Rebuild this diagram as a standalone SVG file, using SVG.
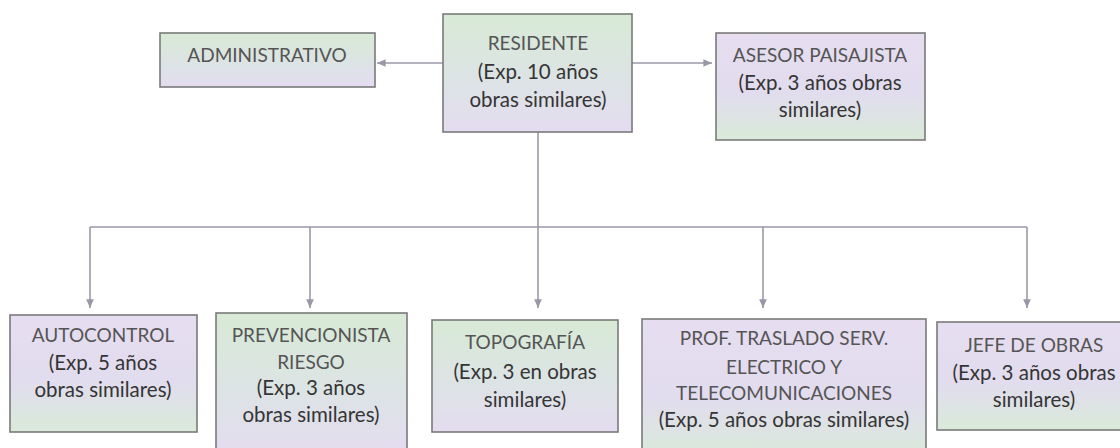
<svg xmlns="http://www.w3.org/2000/svg" width="1120" height="448" viewBox="0 0 1120 448">
<defs>
<linearGradient id="gl" x1="0" y1="0" x2="0" y2="1">
<stop offset="0" stop-color="#e6ddf0"/><stop offset="0.55" stop-color="#e2dcef"/><stop offset="1" stop-color="#d9ead9"/>
</linearGradient>
<linearGradient id="gg" x1="0" y1="0" x2="0" y2="1">
<stop offset="0" stop-color="#d8ead6"/><stop offset="0.6" stop-color="#dde3e6"/><stop offset="1" stop-color="#e4dcf0"/>
</linearGradient>
<marker id="ah" viewBox="0 0 10 10" refX="9" refY="5" markerWidth="6" markerHeight="6" orient="auto">
<path d="M0,1 L9,5 L0,9 z" fill="#9a98a8"/>
</marker>
<style>
.box{stroke:#7a7a7a;stroke-width:1.6}
.t{font-family:Lato,"Open Sans","Liberation Sans",sans-serif;font-size:20.5px;fill:#353535;text-anchor:middle}
.h{fill:#555;font-size:19px}
.c{fill:none;stroke:#9a98a8;stroke-width:1.6}
</style>
</defs>
<rect width="1120" height="448" fill="#ffffff"/>
<g id="connectors">
<line class="c" x1="443" y1="63" x2="377" y2="63" marker-end="url(#ah)"/>
<line class="c" x1="632" y1="63" x2="712" y2="63" marker-end="url(#ah)"/>
<line class="c" x1="538" y1="132" x2="538" y2="227"/>
<line class="c" x1="90" y1="227" x2="1027" y2="227"/>
<line class="c" x1="90" y1="227" x2="90" y2="308" marker-end="url(#ah)"/>
<line class="c" x1="310" y1="227" x2="310" y2="308" marker-end="url(#ah)"/>
<line class="c" x1="538" y1="227" x2="538" y2="308" marker-end="url(#ah)"/>
<line class="c" x1="763" y1="227" x2="763" y2="308" marker-end="url(#ah)"/>
<line class="c" x1="1027" y1="227" x2="1027" y2="308" marker-end="url(#ah)"/>
</g>
<g id="administrativo">
<rect class="box" x="160" y="33" width="215" height="54" fill="url(#gg)"/>
<text class="t h" x="267" y="62">ADMINISTRATIVO</text>
</g>
<g id="residente">
<rect class="box" x="443" y="14" width="189" height="118" fill="url(#gg)"/>
<text class="t h" x="538" y="50">RESIDENTE</text>
<text class="t" x="538" y="79">(Exp. 10 años</text>
<text class="t" x="538" y="107">obras similares)</text>
</g>
<g id="asesor">
<rect class="box" x="716" y="33" width="209" height="107" fill="url(#gl)"/>
<text class="t h" x="820" y="62">ASESOR PAISAJISTA</text>
<text class="t" x="820" y="90">(Exp. 3 años obras</text>
<text class="t" x="820" y="117">similares)</text>
</g>
<g id="autocontrol">
<rect class="box" x="10" y="315" width="187" height="117" fill="url(#gl)"/>
<text class="t h" x="103" y="342">AUTOCONTROL</text>
<text class="t" x="103" y="370">(Exp. 5 años</text>
<text class="t" x="103" y="397">obras similares)</text>
</g>
<g id="prevencionista">
<rect class="box" x="216" y="313" width="191" height="142" fill="url(#gg)"/>
<text class="t h" x="311" y="342">PREVENCIONISTA</text>
<text class="t h" x="311" y="369">RIESGO</text>
<text class="t" x="311" y="395">(Exp. 3 años</text>
<text class="t" x="311" y="422">obras similares)</text>
</g>
<g id="topografia">
<rect class="box" x="432" y="320" width="186" height="112" fill="url(#gg)"/>
<text class="t h" x="525" y="349">TOPOGRAFÍA</text>
<text class="t" x="525" y="379">(Exp. 3 en obras</text>
<text class="t" x="525" y="407">similares)</text>
</g>
<g id="prof-traslado">
<rect class="box" x="642" y="319" width="284" height="140" fill="url(#gl)"/>
<text class="t h" x="784" y="345">PROF. TRASLADO SERV.</text>
<text class="t h" x="784" y="374">ELECTRICO Y</text>
<text class="t h" x="784" y="400">TELECOMUNICACIONES</text>
<text class="t" x="784" y="427">(Exp. 5 años obras similares)</text>
</g>
<g id="jefe-obras">
<rect class="box" x="937" y="322" width="195" height="108" fill="url(#gl)"/>
<text class="t h" x="1034" y="352">JEFE DE OBRAS</text>
<text class="t" x="1034" y="380">(Exp. 3 años obras</text>
<text class="t" x="1034" y="407">similares)</text>
</g>
</svg>
